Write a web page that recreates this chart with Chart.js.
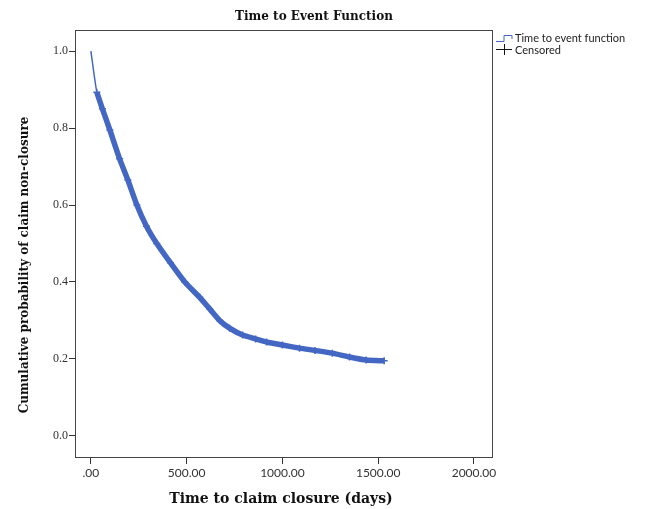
<!DOCTYPE html>
<html>
<head>
<meta charset="utf-8">
<script src="https://cdn.jsdelivr.net/npm/chart.js@4"></script>
<style>
  body { margin: 0; background: #fff; }
  #wrap { width: 653px; height: 509px; }
</style>
</head>
<body>
<div id="wrap"><canvas id="kmChart" width="653" height="509"></canvas></div>
<script>
// survival curve
const days = [0, 31, 60, 99, 150, 193, 240, 290, 344, 415, 490, 568, 620, 672, 724, 792, 860, 917, 1000, 1089, 1170, 1260, 1350, 1437, 1531];
const survival = [1.0, 0.893, 0.85, 0.795, 0.72, 0.665, 0.60, 0.545, 0.50, 0.45, 0.40, 0.36, 0.33, 0.30, 0.28, 0.262, 0.252, 0.244, 0.236, 0.228, 0.222, 0.215, 0.205, 0.197, 0.195];
// censored marks run densely from ~31 days to the end
const censorDays = days.slice(1);
const censorProb = survival.slice(1);

const xTicks = [0, 500, 1000, 1500, 2000];
const yTicks = [0, 0.2, 0.4, 0.6, 0.8, 1.0];

const blue = '#4467c4';
const serif = '"Liberation Serif", "DejaVu Serif", serif';
const wideSerif = '"DejaVu Serif", serif';
const sans = 'Lato, "Liberation Sans", sans-serif';

const frameAndLegend = {
  id: 'frameAndLegend',
  afterDraw(chart) {
    const ctx = chart.ctx;
    const a = chart.chartArea;
    ctx.save();
    ctx.strokeStyle = '#444';
    ctx.lineWidth = 1;
    ctx.strokeRect(a.left + 0.5, a.top + 0.5, a.right - a.left, a.bottom - a.top);

    // title and axis titles
    ctx.fillStyle = '#111';
    ctx.textAlign = 'center';
    ctx.textBaseline = 'middle';
    ctx.font = 'bold 12px ' + wideSerif;
    ctx.fillText('Time to Event Function', 314, 17);
    ctx.font = 'bold 14px ' + wideSerif;
    ctx.fillText('Time to claim closure (days)', 281, 499);
    ctx.font = 'bold 12px ' + wideSerif;
    ctx.save();
    ctx.translate(25, 265);
    ctx.rotate(-Math.PI / 2);
    ctx.fillText('Cumulative probability of claim non-closure', 0, 0);
    ctx.restore();

    // legend
    const lx = a.right + 4;
    ctx.strokeStyle = blue;
    ctx.lineWidth = 1;
    ctx.beginPath();
    ctx.moveTo(lx, 41.5);
    ctx.lineTo(lx + 8, 41.5);
    ctx.lineTo(lx + 8, 35.5);
    ctx.lineTo(lx + 16, 35.5);
    ctx.lineTo(lx + 16, 39);
    ctx.stroke();
    ctx.strokeStyle = '#111';
    ctx.beginPath();
    ctx.moveTo(lx, 49.5);
    ctx.lineTo(lx + 16, 49.5);
    ctx.moveTo(lx + 8.5, 44);
    ctx.lineTo(lx + 8.5, 55);
    ctx.stroke();
    ctx.fillStyle = '#222';
    ctx.font = '11px ' + sans;
    ctx.textAlign = 'left';
    ctx.fillText('Time to event function', lx + 19, 38);
    ctx.fillText('Censored', lx + 19, 50);
    ctx.restore();
  }
};

const ctx = document.getElementById('kmChart').getContext('2d');
const kmChart = new Chart(ctx, {
  type: 'line',
  data: {
    datasets: [{
      label: 'Time to event function',
      data: days.map((d, i) => ({ x: d, y: survival[i] })),
      borderColor: blue,
      borderWidth: 1.5,
      pointRadius: 0,
      tension: 0.2,
    }, {
      label: 'Censored',
      data: censorDays.map((d, i) => ({ x: d, y: censorProb[i] })),
      borderColor: blue,
      backgroundColor: blue,
      borderWidth: 5.5,
      pointStyle: 'cross',
      pointRadius: 3.5,
      pointBorderWidth: 1.5,
      tension: 0.2,
    }]
  },
  options: {
    responsive: false,
    animation: false,
    layout: { padding: { left: 10, right: 161, top: 30, bottom: 0 } },
    plugins: {
      legend: { display: false },
      title: { display: false },
      tooltip: { enabled: false },
    },
    scales: {
      x: {
        type: 'linear',
        min: -83,
        max: 2094,
        afterFit: s => { s.height = 52; },
        afterBuildTicks: s => { s.ticks = xTicks.map(v => ({ value: v })); },
        grid: { drawOnChartArea: false, tickLength: 7, color: '#333' },
        border: { display: false },
        ticks: {
          padding: 2,
          color: '#333',
          font: { family: sans, size: 12 },
          callback: v => v === 0 ? '.00' : v.toFixed(2),
        },
      },
      y: {
        min: -0.055,
        max: 1.055,
        afterFit: s => { s.width = 65; },
        afterBuildTicks: s => { s.ticks = yTicks.map(v => ({ value: v })); },
        grid: { drawOnChartArea: false, tickLength: 6, color: '#333' },
        border: { display: false },
        ticks: {
          padding: 1,
          color: '#333',
          font: { family: serif, size: 12 },
          callback: v => v.toFixed(1),
        },
      },
    },
  },
  plugins: [frameAndLegend],
});
</script>
</body>
</html>
